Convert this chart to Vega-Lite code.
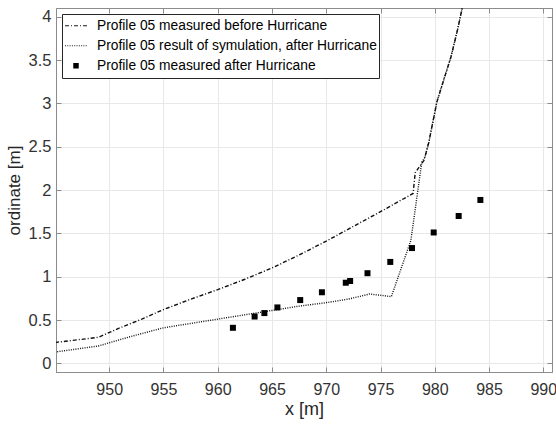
{
  "$schema": "https://vega.github.io/schema/vega-lite/v6.json",
  "autosize": "none",
  "width": 496,
  "height": 364,
  "padding": {"left": 56, "top": 8, "right": 4, "bottom": 52},
  "background": "white",
  "config": {
    "font": "Liberation Sans",
    "view": {"stroke": "#8c8c8c", "strokeWidth": 1},
    "axis": {
      "labelFont": "Liberation Sans",
      "titleFont": "Liberation Sans",
      "labelColor": "#333333",
      "titleColor": "#262626",
      "titleFontWeight": "normal",
      "domainColor": "#8c8c8c",
      "tickColor": "#8c8c8c",
      "gridColor": "#e8e8e8",
      "gridOpacity": 1
    }
  },
  "datasets": {
    "lines": [
      {"series": "Profile 05 measured before Hurricane", "x": 945, "y": 0.24},
      {"series": "Profile 05 measured before Hurricane", "x": 949, "y": 0.30},
      {"series": "Profile 05 measured before Hurricane", "x": 951, "y": 0.41},
      {"series": "Profile 05 measured before Hurricane", "x": 953, "y": 0.51},
      {"series": "Profile 05 measured before Hurricane", "x": 955, "y": 0.62},
      {"series": "Profile 05 measured before Hurricane", "x": 957.5, "y": 0.74},
      {"series": "Profile 05 measured before Hurricane", "x": 960, "y": 0.85},
      {"series": "Profile 05 measured before Hurricane", "x": 962.5, "y": 0.97},
      {"series": "Profile 05 measured before Hurricane", "x": 965, "y": 1.10},
      {"series": "Profile 05 measured before Hurricane", "x": 967.5, "y": 1.25},
      {"series": "Profile 05 measured before Hurricane", "x": 970, "y": 1.41},
      {"series": "Profile 05 measured before Hurricane", "x": 972.5, "y": 1.58},
      {"series": "Profile 05 measured before Hurricane", "x": 975, "y": 1.75},
      {"series": "Profile 05 measured before Hurricane", "x": 978, "y": 1.96},
      {"series": "Profile 05 measured before Hurricane", "x": 978.2, "y": 2.20},
      {"series": "Profile 05 measured before Hurricane", "x": 979.0, "y": 2.34},
      {"series": "Profile 05 measured before Hurricane", "x": 979.45, "y": 2.55},
      {"series": "Profile 05 measured before Hurricane", "x": 980.2, "y": 3.02},
      {"series": "Profile 05 measured before Hurricane", "x": 981.5, "y": 3.54},
      {"series": "Profile 05 measured before Hurricane", "x": 982.1, "y": 3.85},
      {"series": "Profile 05 measured before Hurricane", "x": 982.7, "y": 4.2},
      {"series": "Profile 05 result of symulation, after Hurricane", "x": 945, "y": 0.13},
      {"series": "Profile 05 result of symulation, after Hurricane", "x": 949, "y": 0.20},
      {"series": "Profile 05 result of symulation, after Hurricane", "x": 952, "y": 0.31},
      {"series": "Profile 05 result of symulation, after Hurricane", "x": 955, "y": 0.41},
      {"series": "Profile 05 result of symulation, after Hurricane", "x": 960, "y": 0.51},
      {"series": "Profile 05 result of symulation, after Hurricane", "x": 965, "y": 0.61},
      {"series": "Profile 05 result of symulation, after Hurricane", "x": 967.5, "y": 0.66},
      {"series": "Profile 05 result of symulation, after Hurricane", "x": 970, "y": 0.70},
      {"series": "Profile 05 result of symulation, after Hurricane", "x": 972, "y": 0.74},
      {"series": "Profile 05 result of symulation, after Hurricane", "x": 974, "y": 0.80},
      {"series": "Profile 05 result of symulation, after Hurricane", "x": 976, "y": 0.77},
      {"series": "Profile 05 result of symulation, after Hurricane", "x": 977.8, "y": 1.42},
      {"series": "Profile 05 result of symulation, after Hurricane", "x": 978.8, "y": 2.32},
      {"series": "Profile 05 result of symulation, after Hurricane", "x": 979.1, "y": 2.38},
      {"series": "Profile 05 result of symulation, after Hurricane", "x": 979.45, "y": 2.55},
      {"series": "Profile 05 result of symulation, after Hurricane", "x": 980.2, "y": 3.02},
      {"series": "Profile 05 result of symulation, after Hurricane", "x": 981.5, "y": 3.54},
      {"series": "Profile 05 result of symulation, after Hurricane", "x": 982.1, "y": 3.85},
      {"series": "Profile 05 result of symulation, after Hurricane", "x": 982.7, "y": 4.2}
    ],
    "points": [
      {"series": "Profile 05 measured after Hurricane", "x": 961.4, "y": 0.41},
      {"series": "Profile 05 measured after Hurricane", "x": 963.4, "y": 0.54},
      {"series": "Profile 05 measured after Hurricane", "x": 964.3, "y": 0.58},
      {"series": "Profile 05 measured after Hurricane", "x": 965.5, "y": 0.645},
      {"series": "Profile 05 measured after Hurricane", "x": 967.6, "y": 0.73},
      {"series": "Profile 05 measured after Hurricane", "x": 969.6, "y": 0.82},
      {"series": "Profile 05 measured after Hurricane", "x": 971.8, "y": 0.93},
      {"series": "Profile 05 measured after Hurricane", "x": 972.2, "y": 0.95},
      {"series": "Profile 05 measured after Hurricane", "x": 973.8, "y": 1.04},
      {"series": "Profile 05 measured after Hurricane", "x": 975.9, "y": 1.17},
      {"series": "Profile 05 measured after Hurricane", "x": 977.9, "y": 1.33},
      {"series": "Profile 05 measured after Hurricane", "x": 979.9, "y": 1.51},
      {"series": "Profile 05 measured after Hurricane", "x": 982.2, "y": 1.70},
      {"series": "Profile 05 measured after Hurricane", "x": 984.2, "y": 1.885}
    ]
  },
  "layer": [
    {
      "data": {"name": "lines"},
      "mark": {"type": "line", "clip": true, "strokeWidth": 1.4, "color": "#111111"},
      "encoding": {
        "x": {
          "field": "x", "type": "quantitative",
          "scale": {"domain": [945.1, 990.8], "nice": false, "zero": false},
          "axis": {
            "orient": "bottom", "title": "x [m]", "values": [950, 955, 960, 965, 970, 975, 980, 985, 990], "format": "d",
            "grid": true, "tickSize": -5, "labelPadding": 14, "labelFontSize": 16, "titleFontSize": 18, "titlePadding": 3
          }
        },
        "y": {
          "field": "y", "type": "quantitative",
          "scale": {"domain": [-0.1, 4.1], "nice": false, "zero": false},
          "axis": {
            "orient": "left", "title": "ordinate [m]", "values": [0, 0.5, 1, 1.5, 2, 2.5, 3, 3.5, 4], "format": "~g",
            "grid": true, "tickSize": -5, "labelPadding": 10, "labelFontSize": 16.5, "titleFontSize": 17, "titlePadding": 5
          }
        },
        "strokeDash": {
          "field": "series", "type": "nominal",
          "scale": {
            "domain": ["Profile 05 measured before Hurricane", "Profile 05 result of symulation, after Hurricane", "Profile 05 measured after Hurricane"],
            "range": [[4, 2, 1, 2], [1, 1.3], [1, 0]]
          },
          "legend": {
            "orient": "none", "legendX": 6, "legendY": 6, "title": null,
            "strokeColor": "#262626", "fillColor": "white", "padding": 2,
            "labelFontSize": 13.8, "labelColor": "#000000", "labelFont": "Liberation Sans", "labelLimit": 0,
            "symbolSize": 484, "symbolStrokeWidth": 1.2, "clipHeight": 19.5, "rowPadding": 0, "labelOffset": 9,
            "symbolType": "stroke", "symbolStrokeColor": "#1a1a1a",
            "encode": {
              "symbols": {
                "update": {
                  "shape": {"signal": "datum.value === 'Profile 05 measured after Hurricane' ? 'square' : 'stroke'"},
                  "size": {"signal": "datum.value === 'Profile 05 measured after Hurricane' ? 30 : 484"},
                  "fill": {"signal": "datum.value === 'Profile 05 measured after Hurricane' ? '#000000' : 'transparent'"},
                  "stroke": {"signal": "datum.value === 'Profile 05 measured after Hurricane' ? 'transparent' : '#1a1a1a'"}
                }
              }
            }
          }
        }
      }
    },
    {
      "data": {"name": "points"},
      "mark": {"type": "point", "shape": "square", "filled": true, "size": 36, "color": "#000000", "opacity": 1},
      "encoding": {
        "x": {
          "field": "x", "type": "quantitative",
          "axis": {"orient": "top", "title": null, "labels": false, "grid": false, "tickSize": -5, "values": [950, 955, 960, 965, 970, 975, 980, 985, 990]}
        },
        "y": {
          "field": "y", "type": "quantitative",
          "axis": {"orient": "right", "title": null, "labels": false, "grid": false, "tickSize": -5, "values": [0, 0.5, 1, 1.5, 2, 2.5, 3, 3.5, 4]}
        }
      }
    }
  ],
  "resolve": {"axis": {"x": "independent", "y": "independent"}}
}
